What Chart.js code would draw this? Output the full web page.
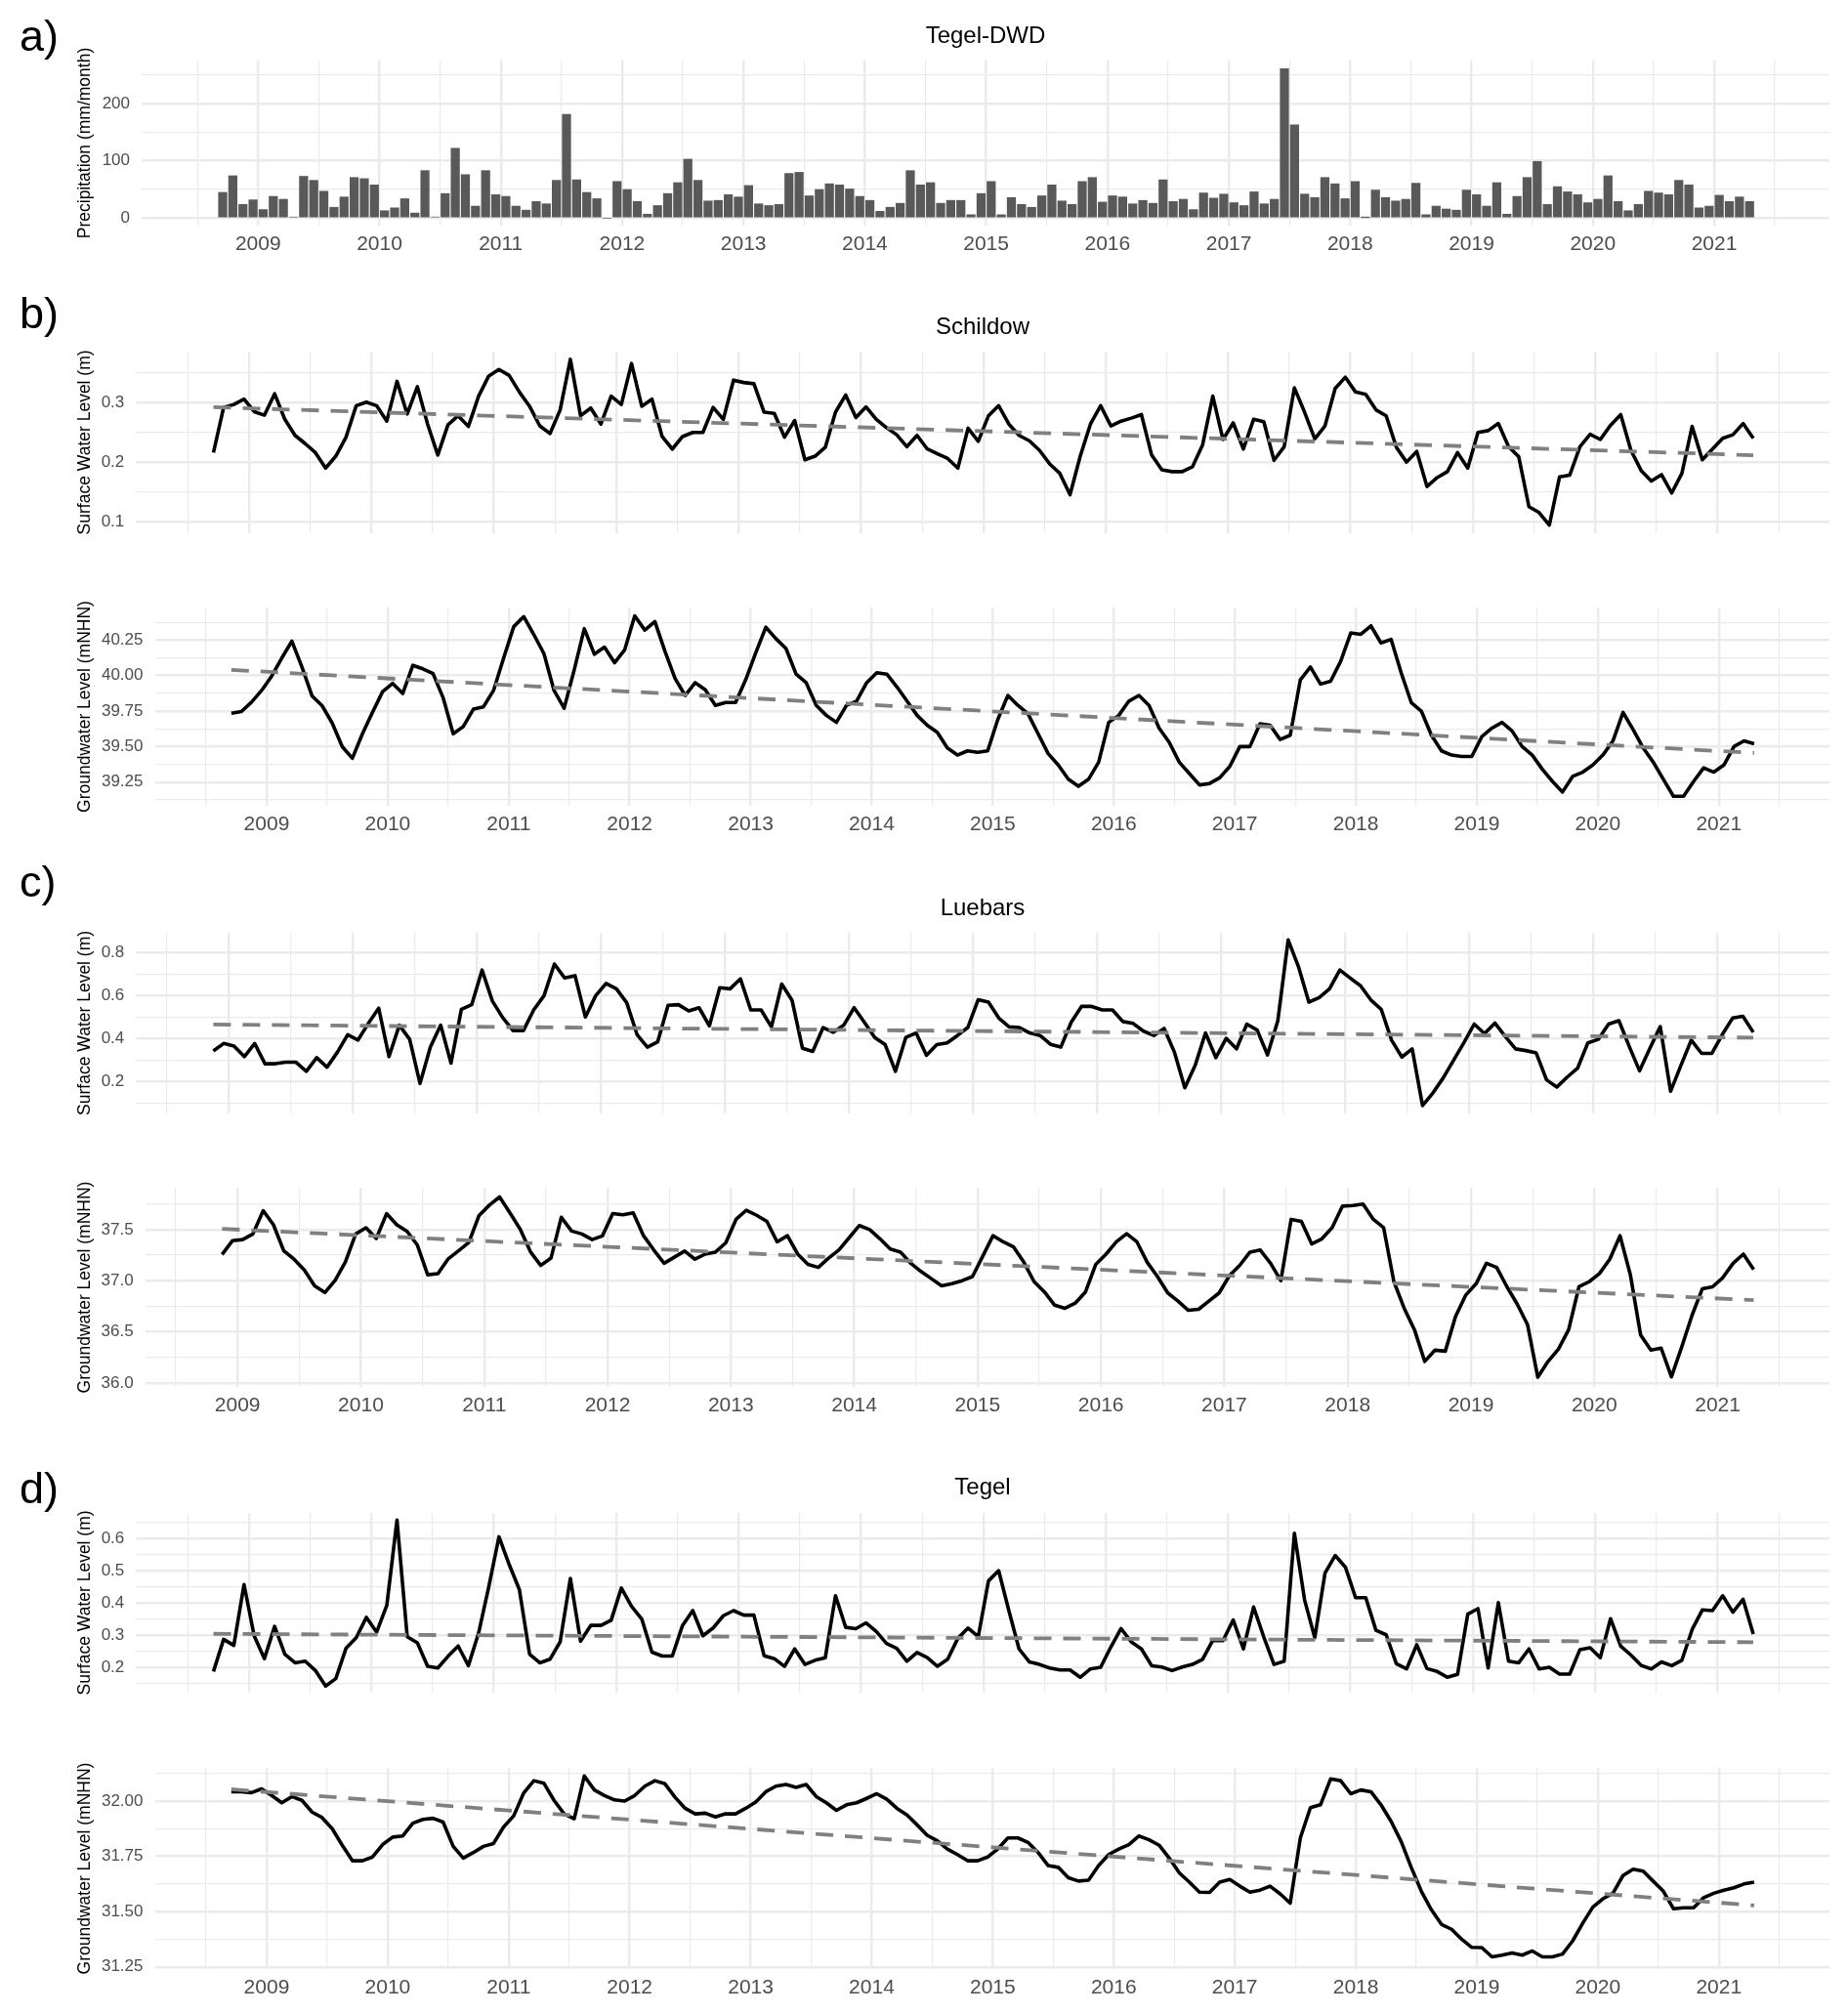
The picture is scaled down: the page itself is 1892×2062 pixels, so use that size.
<!DOCTYPE html>
<html><head><meta charset="utf-8">
<script src="https://cdn.jsdelivr.net/npm/chart.js@4.4.1/dist/chart.umd.min.js"></script>
<style>
html,body{margin:0;padding:0;background:#fff;}
#page{position:relative;width:1892px;height:2062px;overflow:hidden;background:#fff;}
.box{position:absolute;left:0;width:1892px;}
.box canvas{display:block;}
#txt{position:absolute;left:0;top:0;pointer-events:none;}
#txt text{font-family:'Liberation Sans',Arial,Helvetica,sans-serif;fill:#000;}
</style></head><body>
<div id="page">
<svg id="txt" width="1892" height="2062">
  <text x="20" y="52" font-size="45">a)</text>
  <text x="1009" y="44" font-size="24" text-anchor="middle">Tegel-DWD</text>
  <text x="20" y="336" font-size="45">b)</text>
  <text x="1006" y="342" font-size="24" text-anchor="middle">Schildow</text>
  <text x="20" y="918" font-size="45">c)</text>
  <text x="1006" y="937" font-size="24" text-anchor="middle">Luebars</text>
  <text x="20" y="1539" font-size="45">d)</text>
  <text x="1006" y="1530" font-size="24" text-anchor="middle">Tegel</text>
</svg>
</div>
<script>
// ---------------- DATA ----------------
// monthly series; first month given as [year, month]
const precipStart = [2008, 9];
const precip = [
 45,74,24,32,
 15,38,33,2,73,66,47,19,37,71,69,58,
 13,18,34,9,83,2,43,122,76,21,83,41,
 38,21,14,29,25,66,181,67,45,34,0,64,
 50,29,7,22,43,62,103,66,30,31,41,37,
 57,25,22,24,78,80,39,50,60,58,51,38,
 31,12,19,26,83,58,62,26,31,31,6,43,
 64,6,36,24,19,39,58,30,24,64,71,28,
 39,37,25,31,26,67,29,33,15,44,35,42,
 27,22,46,25,33,261,163,42,36,71,60,34,
 64,1,49,36,30,33,61,6,21,16,14,49,
 41,21,62,7,38,71,99,24,55,46,41,27,
 33,74,29,13,24,47,44,41,66,58,18,21,
 40,29,37,29
];

const schildowStart = [2008, 9];
const schildowSW = [
 .216,.292,.297,.306,
 .285,.279,.315,.272,.245,.231,.216,.190,.210,.242,.295,.301,
 .295,.269,.336,.281,.327,.264,.212,.263,.278,.260,.311,.345,
 .356,.346,.318,.294,.261,.248,.288,.373,.278,.291,.264,.311,
 .297,.366,.294,.306,.243,.222,.243,.250,.250,.292,.272,.338,
 .334,.332,.284,.282,.242,.270,.204,.210,.225,.284,.313,.275,
 .293,.272,.258,.246,.226,.245,.222,.214,.206,.190,.257,.235,
 .278,.295,.264,.245,.236,.220,.197,.181,.145,.210,.264,.295,
 .261,.269,.274,.280,.212,.187,.184,.184,.192,.229,.311,.238,
 .266,.222,.272,.268,.203,.226,.325,.284,.239,.261,.324,.343,
 .318,.314,.288,.278,.225,.200,.218,.159,.174,.184,.216,.190,
 .250,.253,.265,.226,.209,.125,.115,.094,.175,.178,.226,.247,
 .238,.262,.280,.220,.186,.168,.179,.148,.181,.260,.204,.222,
 .240,.246,.265,.240
];
const schildowSWTrend = [0.2925, 0.2116];
const schildowGW = [
 39.735,39.747,39.813,39.895,
 39.996,40.123,40.242,40.06,39.857,39.788,39.666,39.499,39.417,39.59,39.742,39.887,
 39.945,39.874,40.072,40.047,40.014,39.844,39.59,39.641,39.763,39.78,39.895,40.123,
 40.344,40.415,40.288,40.154,39.895,39.77,40.04,40.33,40.15,40.20,40.09,40.18,
 40.42,40.32,40.38,40.17,39.98,39.86,39.95,39.90,39.79,39.81,39.81,39.97,
 40.16,40.34,40.26,40.19,40.01,39.95,39.79,39.72,39.67,39.79,39.82,39.95,
 40.02,40.01,39.92,39.82,39.72,39.65,39.60,39.49,39.44,39.47,39.46,39.47,
 39.69,39.86,39.79,39.73,39.59,39.45,39.37,39.27,39.22,39.27,39.39,39.67,
 39.72,39.82,39.86,39.79,39.63,39.53,39.39,39.31,39.23,39.24,39.28,39.36,
 39.50,39.50,39.66,39.65,39.55,39.58,39.97,40.06,39.94,39.96,40.10,40.30,
 40.29,40.35,40.23,40.255,40.02,39.81,39.75,39.58,39.47,39.44,39.43,39.43,
 39.57,39.63,39.67,39.61,39.50,39.44,39.34,39.255,39.18,39.29,39.32,39.37,
 39.44,39.54,39.74,39.62,39.49,39.39,39.27,39.15,39.15,39.255,39.35,39.32,
 39.37,39.50,39.54,39.52
];
const schildowGWTrend = [40.04, 39.455];

const luebarsStart = [2008, 11];
const luebarsSW = [
 .343,.378,
 .366,.317,.378,.284,.284,.291,.291,.249,.312,.268,.337,.419,
 .394,.471,.542,.317,.463,.397,.192,.361,.463,.287,.537,.558,
 .719,.575,.498,.438,.438,.534,.600,.747,.682,.693,.501,.600,
 .657,.632,.567,.419,.361,.386,.555,.558,.529,.544,.460,.637,
 .632,.678,.534,.534,.455,.654,.578,.356,.341,.452,.430,.463,
 .544,.476,.406,.373,.249,.406,.427,.323,.373,.381,.415,.452,
 .581,.570,.496,.455,.452,.427,.415,.374,.361,.476,.550,.550,
 .534,.534,.480,.471,.435,.415,.448,.337,.172,.276,.427,.312,
 .402,.353,.468,.440,.325,.484,.859,.734,.570,.591,.632,.719,
 .682,.646,.580,.537,.394,.315,.353,.090,.148,.218,.300,.381,
 .468,.424,.473,.411,.353,.345,.334,.209,.176,.222,.263,.381,
 .397,.468,.484,.364,.251,.356,.456,.156,.276,.394,.332,.332,
 .419,.496,.504,.430
];
const luebarsSWTrend = [0.466, 0.405];
const luebarsGW = [
 37.257,37.391,
 37.402,37.457,37.685,37.547,37.293,37.210,37.105,36.949,36.884,37.004,37.185,37.457,
 37.518,37.413,37.656,37.547,37.482,37.348,37.058,37.069,37.214,37.293,37.373,37.638,
 37.739,37.819,37.663,37.504,37.283,37.149,37.221,37.620,37.486,37.457,37.402,37.438,
 37.656,37.645,37.663,37.44,37.30,37.17,37.23,37.29,37.21,37.26,37.28,37.37,
 37.60,37.69,37.64,37.58,37.38,37.44,37.26,37.16,37.13,37.22,37.30,37.42,
 37.54,37.50,37.41,37.31,37.28,37.17,37.09,37.02,36.95,36.97,37.00,37.04,
 37.24,37.44,37.38,37.33,37.18,36.99,36.89,36.76,36.73,36.78,36.89,37.16,
 37.26,37.38,37.46,37.38,37.18,37.04,36.88,36.80,36.71,36.72,36.80,36.88,
 37.05,37.15,37.28,37.30,37.17,37.00,37.60,37.58,37.36,37.41,37.52,37.73,
 37.735,37.75,37.60,37.52,36.99,36.73,36.52,36.21,36.32,36.31,36.65,36.86,
 36.97,37.17,37.13,36.94,36.77,36.57,36.055,36.21,36.33,36.52,36.94,36.99,
 37.07,37.21,37.44,37.06,36.47,36.32,36.34,36.06,36.35,36.66,36.92,36.94,
 37.03,37.17,37.26,37.11
];
const luebarsGWTrend = [37.507, 36.81];

const tegelStart = [2008, 9];
const tegelSW = [
 .187,.287,.268,.457,
 .297,.227,.327,.241,.214,.219,.190,.142,.165,.259,.292,.355,
 .309,.392,.657,.295,.276,.203,.198,.234,.266,.205,.306,.450,
 .605,.519,.441,.241,.214,.225,.279,.476,.281,.330,.330,.346,
 .446,.389,.350,.247,.235,.235,.330,.376,.298,.322,.360,.376,
 .362,.362,.236,.227,.203,.257,.209,.222,.230,.422,.324,.320,
 .338,.311,.274,.259,.219,.246,.230,.203,.225,.290,.322,.295,
 .468,.500,.376,.257,.217,.209,.198,.192,.192,.169,.195,.200,
 .263,.320,.279,.257,.205,.201,.190,.201,.209,.225,.284,.283,
 .347,.257,.387,.294,.209,.219,.616,.409,.292,.492,.547,.511,
 .416,.416,.315,.301,.211,.195,.270,.196,.187,.169,.178,.365,
 .382,.198,.401,.219,.214,.257,.195,.200,.179,.179,.255,.261,
 .230,.351,.266,.238,.206,.195,.217,.205,.222,.317,.378,.376,
 .422,.371,.411,.303
];
const tegelSWTrend = [0.304, 0.278];
const tegelGW = [
 32.042,32.042,32.038,32.055,
 32.025,31.992,32.02,32.003,31.95,31.925,31.875,31.80,31.73,31.73,31.747,31.803,
 31.837,31.842,31.90,31.917,31.922,31.905,31.795,31.742,31.767,31.795,31.808,31.883,
 31.933,32.037,32.092,32.08,32.003,31.942,31.92,32.113,32.05,32.025,32.005,32.0,
 32.025,32.067,32.092,32.078,32.017,31.967,31.942,31.945,31.928,31.942,31.942,31.967,
 31.995,32.042,32.067,32.075,32.062,32.075,32.02,31.992,31.958,31.983,31.992,32.012,
 32.033,32.008,31.967,31.937,31.892,31.845,31.82,31.783,31.758,31.73,31.73,31.747,
 31.783,31.833,31.833,31.813,31.767,31.708,31.70,31.653,31.638,31.642,31.708,31.758,
 31.783,31.803,31.842,31.825,31.80,31.742,31.675,31.633,31.588,31.587,31.633,31.645,
 31.615,31.588,31.597,31.615,31.58,31.538,31.833,31.97,31.983,32.10,32.092,32.033,
 32.05,32.042,31.983,31.908,31.817,31.70,31.592,31.508,31.442,31.42,31.375,31.338,
 31.337,31.295,31.303,31.313,31.303,31.322,31.295,31.295,31.308,31.367,31.447,31.52,
 31.558,31.583,31.663,31.692,31.683,31.637,31.592,31.513,31.517,31.517,31.563,31.583,
 31.597,31.608,31.625,31.633
];
const tegelGWTrend = [32.053, 31.528];

// tick labels
const yearTicks = [2009,2010,2011,2012,2013,2014,2015,2016,2017,2018,2019,2020,2021];
const precipTicks = [0,100,200];            const precipTickLabels = ['0','100','200'];
const schildowSWTicks = [0.1,0.2,0.3];      const schildowSWTickLabels = ['0.1','0.2','0.3'];
const schildowGWTicks = [39.25,39.5,39.75,40,40.25]; const schildowGWTickLabels = ['39.25','39.50','39.75','40.00','40.25'];
const luebarsSWTicks = [0.2,0.4,0.6,0.8];   const luebarsSWTickLabels = ['0.2','0.4','0.6','0.8'];
const luebarsGWTicks = [36,36.5,37,37.5];   const luebarsGWTickLabels = ['36.0','36.5','37.0','37.5'];
const tegelSWTicks = [0.2,0.3,0.4,0.5,0.6]; const tegelSWTickLabels = ['0.2','0.3','0.4','0.5','0.6'];
const tegelGWTicks = [31.25,31.5,31.75,32]; const tegelGWTickLabels = ['31.25','31.50','31.75','32.00'];

// ---------------- RENDERING ----------------
const FONT = "'Liberation Sans', Arial, Helvetica, sans-serif";
const GRID = '#EBEBEB';
Chart.defaults.font.family = FONT;

function monthX(start, n) {
  const out = [];
  for (let i = 0; i < n; i++) {
    const k = start[1] - 1 + i;
    out.push(start[0] + Math.floor(k / 12) + ((k % 12) + 0.5) / 12);
  }
  return out;
}
function pts(xs, ys) { return ys.map((v, i) => ({x: xs[i], y: v})); }
function minorsOf(majors) {
  const step = majors[1] - majors[0];
  const out = [];
  for (let i = -1; i < majors.length; i++) out.push(majors[0] + (i + 0.5) * step);
  return out;
}
const near = (a, b) => Math.abs(a - b) < 1e-6;

const page = document.getElementById('page');
const svg = document.getElementById('txt');

function panel(o) {
  const T0 = o.area.top - 30;
  const extra = o.showX ? 46 : 12;
  const H = Math.round(o.area.bottom - T0 + extra);
  const div = document.createElement('div');
  div.className = 'box';
  div.style.top = T0 + 'px';
  div.style.height = H + 'px';
  const cv = document.createElement('canvas');
  cv.width = 1892; cv.height = H;
  cv.style.width = '1892px'; cv.style.height = H + 'px';
  div.appendChild(cv);
  page.insertBefore(div, svg);

  const xMaj = yearTicks;
  const xAll = [];
  for (let v = 2008.5; v <= 2021.5; v += 0.5) if (v >= o.xRange[0] && v <= o.xRange[1]) xAll.push(v);
  const yMin = minorsOf(o.yMajor).filter(v => v > o.yRange[0] && v < o.yRange[1]);
  const yAll = o.yMajor.concat(yMin).sort((a, b) => a - b);
  const isMajY = v => o.yMajor.some(m => near(m, v));
  const isMajX = v => xMaj.some(m => near(m, v));

  new Chart(cv, {
    type: o.type,
    data: {datasets: o.datasets},
    options: {
      responsive: false,
      devicePixelRatio: 1,
      animation: false,
      events: [],
      layout: {padding: {left: 0, right: 1892 - o.area.right, top: o.area.top - T0, bottom: 0}},
      plugins: {legend: {display: false}, tooltip: {enabled: false}, title: {display: false}},
      scales: {
        x: {
          type: 'linear', min: o.xRange[0], max: o.xRange[1], offset: false,
          grid: {offset: false, color: GRID, drawTicks: false,
                 lineWidth: c => (c.tick && isMajX(c.tick.value)) ? 2.4 : 1.2},
          border: {display: false},
          ticks: {display: o.showX, autoSkip: false, maxRotation: 0, minRotation: 0, padding: 7,
                  color: '#4D4D4D', font: {family: FONT, size: 21},
                  callback: v => isMajX(v) ? String(Math.round(v)) : ''},
          afterBuildTicks: s => { s.ticks = xAll.map(v => ({value: v})); },
          afterFit: s => { s.height = extra; }
        },
        y: {
          type: 'linear', min: o.yRange[0], max: o.yRange[1],
          grid: {color: GRID, drawTicks: false,
                 lineWidth: c => (c.tick && isMajY(c.tick.value)) ? 2.4 : 1.2},
          border: {display: false},
          ticks: {autoSkip: false, padding: 12, color: '#4D4D4D', font: {family: FONT, size: 17},
                  callback: v => { const i = o.yMajor.findIndex(m => near(m, v)); return i >= 0 ? o.yLabels[i] : ''; }},
          title: {display: true, text: o.yTitle, color: '#000', font: {family: FONT, size: 17.5},
                  padding: {top: 76.5, bottom: 0}},
          afterBuildTicks: s => { s.ticks = yAll.map(v => ({value: v})); },
          afterFit: s => { s.width = o.area.left; }
        }
      }
    }
  });
}

function lineSets(start, vals, trend) {
  const xs = monthX(start, vals.length);
  return [
    {type: 'line', data: [{x: xs[0], y: trend[0]}, {x: xs[xs.length - 1], y: trend[1]}],
     borderColor: '#808080', borderWidth: 3.8, borderDash: [18, 12], borderCapStyle: 'butt',
     pointRadius: 0, fill: false, tension: 0},
    {type: 'line', data: pts(xs, vals), borderColor: '#000000', borderWidth: 3.6,
     pointRadius: 0, fill: false, tension: 0, borderJoinStyle: 'round'}
  ];
}

const SW_TITLE = 'Surface Water Level (m)';
const GW_TITLE = 'Groundwater Level (mNHN)';

// a) precipitation
panel({type: 'bar', area: {left: 145, right: 1873, top: 62, bottom: 231},
  xRange: [2008.04, 2021.95], yRange: [-13, 275], yMajor: precipTicks, yLabels: precipTickLabels,
  yTitle: 'Precipitation (mm/month)', showX: true,
  datasets: [{type: 'bar', data: pts(monthX(precipStart, precip.length), precip),
    backgroundColor: '#595959', borderWidth: 0, barThickness: 8.6}]});

// b) Schildow
panel({type: 'line', area: {left: 139.3, right: 1873, top: 360, bottom: 555.6},
  xRange: [2008.076, 2021.914], yRange: [0.0805, 0.386], yMajor: schildowSWTicks, yLabels: schildowSWTickLabels,
  yTitle: SW_TITLE, showX: false, datasets: lineSets(schildowStart, schildowSW, schildowSWTrend)});
panel({type: 'line', area: {left: 158.5, right: 1873, top: 621.5, bottom: 824.9},
  xRange: [2008.076, 2021.914], yRange: [39.083, 40.479], yMajor: schildowGWTicks, yLabels: schildowGWTickLabels,
  yTitle: GW_TITLE, showX: true, datasets: lineSets(schildowStart, schildowGW, schildowGWTrend)});

// c) Luebars
panel({type: 'line', area: {left: 139.3, right: 1873, top: 955, bottom: 1150},
  xRange: [2008.252, 2021.906], yRange: [0.054, 0.892], yMajor: luebarsSWTicks, yLabels: luebarsSWTickLabels,
  yTitle: SW_TITLE, showX: false, datasets: lineSets(luebarsStart, luebarsSW, luebarsSWTrend)});
panel({type: 'line', area: {left: 148.7, right: 1873, top: 1215.6, bottom: 1420},
  xRange: [2008.252, 2021.906], yRange: [35.96, 37.91], yMajor: luebarsGWTicks, yLabels: luebarsGWTickLabels,
  yTitle: GW_TITLE, showX: true, datasets: lineSets(luebarsStart, luebarsGW, luebarsGWTrend)});

// d) Tegel
panel({type: 'line', area: {left: 139.3, right: 1873, top: 1549.3, bottom: 1743.7},
  xRange: [2008.076, 2021.914], yRange: [0.122, 0.679], yMajor: tegelSWTicks, yLabels: tegelSWTickLabels,
  yTitle: SW_TITLE, showX: false, datasets: lineSets(tegelStart, tegelSW, tegelSWTrend)});
panel({type: 'line', area: {left: 158.5, right: 1873, top: 1809.8, bottom: 2016},
  xRange: [2008.076, 2021.914], yRange: [31.24, 32.15], yMajor: tegelGWTicks, yLabels: tegelGWTickLabels,
  yTitle: GW_TITLE, showX: true, datasets: lineSets(tegelStart, tegelGW, tegelGWTrend)});
</script>
</body></html>
